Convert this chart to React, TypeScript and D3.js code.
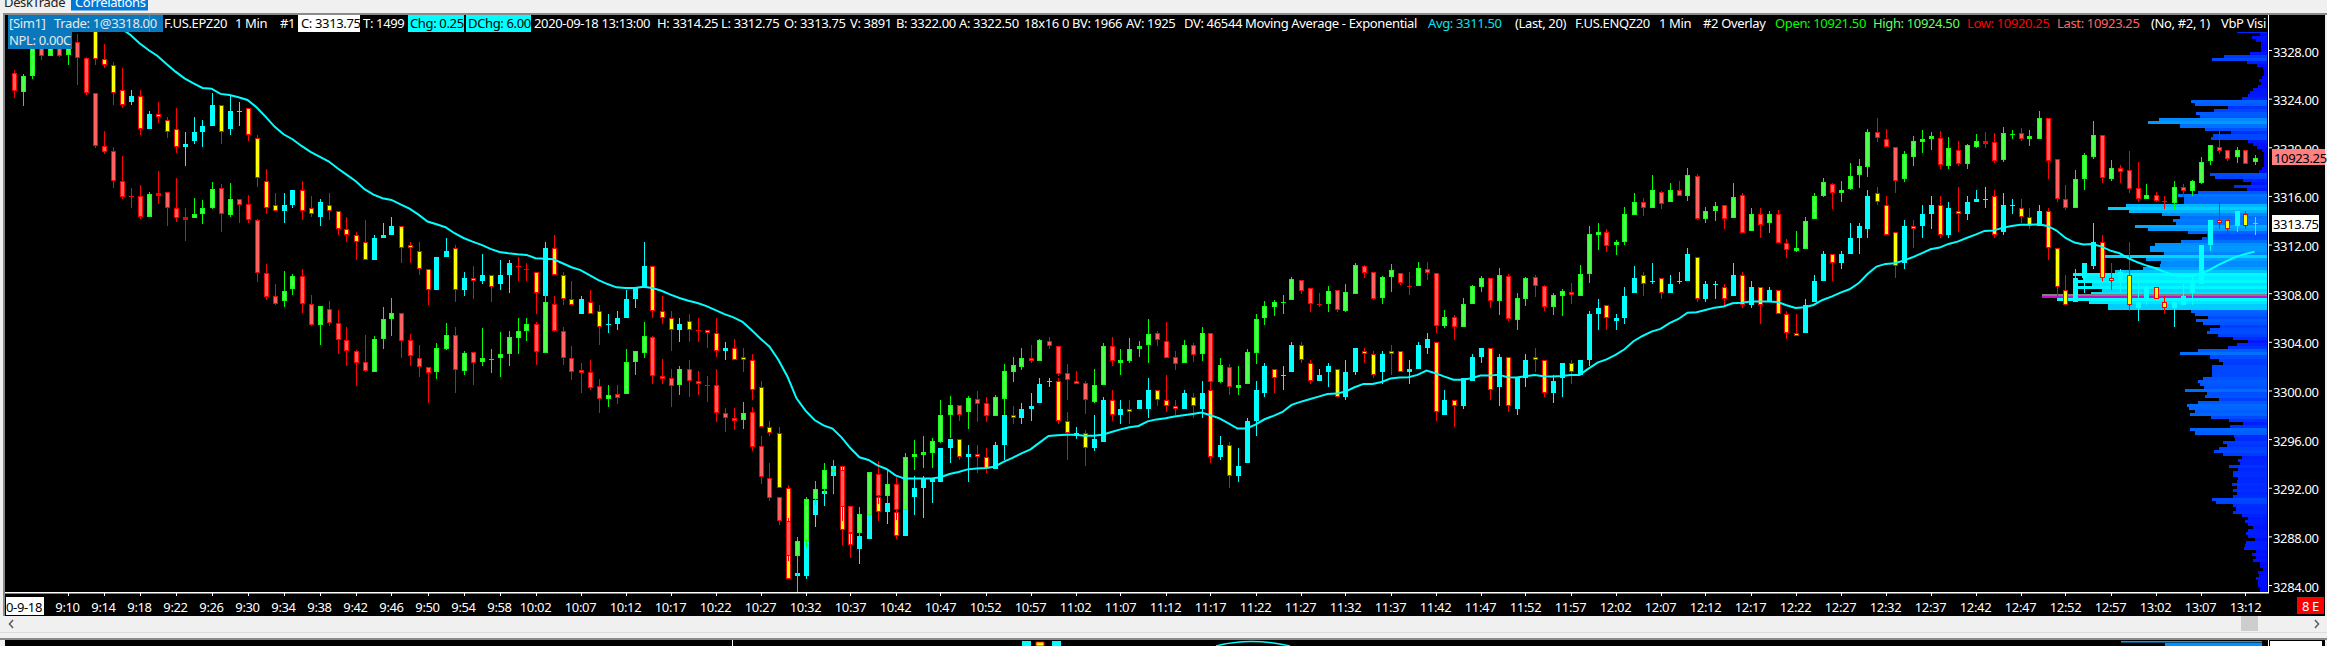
import React from "react";
import * as d3 from "d3";

// Each bar is [open, close, high, low].
// Main series F.US.EPZ20: its first nine bars lie above the visible pane, so it starts at bar 9.
const firstMainBar = 9;
const mainBars: number[][] = [
[3330,3327.25,3330.25,3326.75],[3327.25,3326.75,3328.5,3326.5],[3326.75,3324.5,3327,3323.5],[3324.75,3323.5,3326.5,3323.25],[3323.75,3324.25,3324.75,3323.5],
[3324.25,3321.5,3324.75,3321],[3321.5,3322.75,3323,3321.5],[3322.75,3322.5,3323.75,3322],[3322.25,3321.25,3322.5,3320.75],[3321.5,3320,3323.25,3319.5],
[3320,3320.25,3321.25,3318.5],[3320.5,3321.25,3322.5,3320.25],[3321.25,3321.75,3322.25,3320],[3321.75,3323.5,3324.5,3321.75],[3323.5,3321.25,3323.5,3320.25],
[3321.5,3323,3324.25,3321],[3323,3323,3323.75,3321.75],[3323.25,3321,3323.25,3320.5],[3320.75,3317.5,3321,3316.75],[3317.25,3315,3318.25,3314.5],
[3315.25,3314.75,3316.25,3314.75],[3314.75,3315.25,3316.25,3313.75],[3315.25,3316.5,3316.5,3315],[3316.5,3314.75,3317.25,3314],[3315,3314.5,3316,3314.25],
[3314.25,3315.5,3315.75,3313.5],[3315.25,3314.75,3316.25,3314],[3314.75,3313.25,3314.75,3312.75],[3313.25,3312.75,3314.25,3312.25],[3312.75,3312.25,3313,3310.75],
[3312.25,3310.75,3314,3310.75],[3310.75,3312.5,3312.75,3310.75],[3312.5,3312.75,3313.75,3312.5],[3312.75,3313.5,3314.25,3312.75],[3313.5,3311.75,3313.5,3310.5],
[3312,3311.75,3312.25,3310.5],[3311.5,3310,3312.25,3309.5],[3310,3308.25,3310,3307],[3308.25,3311,3311,3308.25],[3311,3311.5,3312.5,3311],
[3311.75,3308.25,3312,3307.25],[3308.25,3309.25,3309.75,3307.75],[3309.25,3309,3310.25,3307.5],[3309,3309.5,3311.25,3308.75],[3309.5,3308.5,3309.5,3307.25],
[3308.75,3309.5,3310.75,3308.25],[3309.5,3310.5,3310.75,3308],[3310.25,3310.25,3311,3309],[3310,3310,3310.5,3309],[3309.75,3308,3309.75,3306.25],
[3307.75,3311.75,3312.25,3307.75],[3311.75,3309.5,3312.75,3309.5],[3309.5,3307.5,3309.75,3307],[3307.5,3307,3309,3307],
[3306.25,3307.5,3307.75,3306.25],[3307.25,3306.25,3308.25,3306.25],[3306.5,3305.25,3307,3303.75],[3305.5,3305.5,3306.25,3304.75],[3305.5,3306,3306.5,3305],
[3306,3307.5,3308.25,3306],[3307.5,3308.5,3308.5,3306.75],[3308.5,3310.25,3312.25,3308.5],[3310.25,3306.5,3310.25,3306],[3306.5,3306,3307.75,3305.5],
[3306,3305,3306.5,3303.25],[3305,3305.5,3306,3304],[3305.75,3305,3306.25,3304],[3305,3305,3306,3304],[3305,3304.75,3305,3303.5],
[3304.75,3303.25,3306,3302.75],[3303.25,3303.5,3304,3302.5],[3303.5,3302.5,3304.25,3302.5],[3302.75,3302.5,3303.5,3301.5],[3302.5,3300,3303,3299.25],
[3300.25,3297,3300.75,3297],[3297,3296.5,3297.5,3296.25],[3296.5,3292,3297,3292],[3292,3284.5,3292.25,3284.5],[3284.75,3285,3285,3284.75],
[3284.75,3287.75,3287.75,3284.5],[3289.75,3291,3291,3288.75],[3291.5,3291.75,3291.75,3290.5],[3293,3293.75,3294.25,3291.5],[3293.75,3288.5,3293.75,3287.25],
[3288.25,3287.25,3288.25,3286.25],[3287,3288,3288,3285.75],[3287.75,3289.75,3289.75,3287.75],[3291.25,3290,3291.25,3289.25],[3290,3290.75,3290.75,3289],
[3290,3288,3290,3287.75],[3288,3290.25,3290.25,3288],[3291.25,3292,3293,3289.75],[3292,3292.75,3293,3289.5],[3292.5,3292.75,3292.75,3290.75],
[3292.5,3295.25,3295.25,3292.5],[3295.25,3296,3296,3294],[3296,3294.5,3296,3294.25],[3294.5,3294.75,3295.5,3292.5],[3294.75,3294.5,3295.5,3293.25],
[3294.5,3293.5,3295.25,3293.25],[3293.5,3295.5,3295.75,3293.5],[3295.5,3298,3298,3294.25],[3298,3297.75,3298.75,3297.25],[3297.75,3298.5,3299,3297.25],
[3298.5,3298.75,3299.75,3297.5],[3299,3300.5,3301,3299],[3300.75,3300.75,3301,3300.25],[3300.75,3297.5,3301,3297.25],[3297.5,3296.5,3298.25,3294.25],
[3296.25,3296.5,3297,3296],[3296.5,3295.25,3296.75,3293.75],[3295.25,3296,3298,3295],[3295.75,3299.25,3299.5,3295.75],[3299.25,3298,3300,3297.5],
[3298,3298.5,3299.25,3297.25],[3298.5,3298.25,3299.25,3297.25],[3298.5,3299.25,3299.25,3298.5],[3298.5,3300,3301,3297.75],[3300,3299.25,3300,3298.75],
[3299.25,3298.75,3301.25,3298.25],[3298.75,3298.5,3299.25,3298],[3298.5,3299.75,3300,3298.5],[3299.5,3298.75,3299.75,3297.75],[3298.5,3299.75,3300.75,3297.75],
[3300,3294.5,3300.5,3294],[3294.5,3295.5,3296.25,3294.25],[3295.5,3293,3295.75,3292],[3293,3293.75,3295.25,3292.5],[3294,3297.5,3297.75,3294],
[3297.5,3300,3300.75,3296.25],[3299.75,3302,3302.25,3299.5],[3301.75,3301,3301.75,3299.75],[3301.25,3301.25,3302,3300],[3301.5,3303.75,3304,3301.5],
[3303.75,3302.5,3304,3302.25],[3302.25,3300.75,3302.5,3300.5],[3300.75,3301.25,3301.75,3300.75],[3301.5,3302,3302.25,3300.25],[3301.75,3299.5,3301.75,3299.5],
[3299.5,3301.5,3302.5,3299.25],[3301.5,3303.5,3303.5,3301.25],[3303.25,3303,3303.5,3302.25],[3303,3301.25,3303.25,3301],[3301.5,3303,3303.25,3300.5],
[3303.25,3303,3303.75,3301.25],[3303.25,3301.5,3303.25,3301.5],[3301.5,3301.75,3302.5,3300.5],[3301.75,3303.75,3304,3301.75],[3303.5,3304.25,3304.75,3303],
[3304,3298.25,3304,3297.5],[3298,3299.25,3300,3298],[3299.25,3298.75,3299.25,3297],[3298.75,3301,3301,3298.5],[3300.75,3302.75,3303,3300.75],
[3302.75,3303.5,3303.5,3302.25],[3303.5,3300,3303.5,3299.25],[3300.25,3302.75,3303,3298.75],[3302.75,3298.75,3302.75,3298.25],[3298.5,3301,3301,3298],
[3301,3302.5,3303,3300.25],[3302.75,3302.5,3303.5,3301.5],[3302.5,3299.75,3302.5,3299.5],[3299.75,3300.75,3301.25,3299],[3301,3302.25,3302.25,3299.5],
[3302.25,3301.5,3302.5,3300.5],[3301.25,3302.5,3302.5,3301.25],[3302.5,3306.25,3306.5,3302],[3306.25,3306.75,3307.5,3305],[3307,3306,3307,3305],
[3305.75,3306,3306.25,3305],[3306,3307.75,3308.5,3305.5],[3308,3309.25,3310.25,3308],[3309.5,3308.75,3309.75,3307.75],[3309,3309,3310.5,3308.75],
[3309.25,3308,3309.25,3307.5],[3308,3308.75,3309.5,3308],[3309,3309,3309.75,3308.75],[3309,3311.25,3311.75,3309],[3311,3307.5,3311,3307.25],
[3307.5,3308.75,3309,3307.25],[3308.75,3308.75,3309,3307.5],[3308.5,3307.5,3308.75,3307],[3307.75,3309.5,3310.5,3307.75],[3309.5,3307,3309.75,3306.75],
[3307,3308.5,3309,3306.75],[3308.5,3307,3308.5,3305.5],[3307.25,3308.25,3308.5,3307.25],[3308.25,3306.25,3308.25,3306.25],[3306.25,3304.75,3306.5,3304.25],
[3304.75,3304.5,3306.25,3304.5],[3304.75,3307,3307.5,3304.75],[3307.25,3309,3309.5,3307.25],[3309,3311.25,3311.5,3309],[3311.25,3310.5,3311.25,3309],
[3310.5,3311.25,3311.5,3310],[3311.25,3312.5,3313.75,3311.25],[3312.5,3313.5,3313.75,3311.25],[3313.25,3316,3316.5,3312.5],[3316.25,3315.5,3316.75,3315.25],
[3315.25,3312.75,3316,3312.75],[3313,3310.25,3313,3309.25],[3310.5,3313.5,3314,3310],[3313.5,3313.25,3314,3311.75],[3313.5,3314.5,3315.25,3312.5],
[3314.5,3315.25,3316,3313.25],[3315.25,3312.75,3316,3312.5],[3312.75,3315,3315.5,3312.5],[3314.75,3314.5,3316.75,3313],[3314.5,3315.5,3316,3314],
[3315.5,3315.75,3316.5,3315.5],[3315.75,3315.75,3316.75,3315],[3316,3312.75,3316.5,3312.5],[3313,3315.25,3316.25,3312.75],[3315.25,3315.25,3315.75,3314.5],
[3315,3314.25,3315.75,3313.75],[3314.25,3313.5,3315,3313.25],[3313.5,3314.75,3315.25,3313.5],[3314.75,3311.75,3315,3310.75],[3311.75,3308.5,3311.75,3307.75],
[3308.25,3307,3309.5,3307],[3307.25,3309.25,3310,3307.25],[3309.25,3310.5,3310.5,3308],[3310.25,3312.25,3313.75,3310],[3312.25,3309.25,3312.75,3309],
[3309.25,3309,3310.5,3308.25],[3309,3309.75,3310,3308],[3309.5,3307,3312.25,3306.5],[3306.75,3307.25,3309,3305.75],[3307.5,3308.5,3308.75,3307],
[3308.5,3307.5,3308.5,3307.5],[3307.25,3306.75,3307.75,3306.25],[3306.75,3307.25,3307.25,3305.25],[3307,3307.75,3308.75,3307],[3308,3309,3309.5,3307],
[3308.75,3312,3312,3308.75],[3312,3314,3314,3311.5],[3314,3313.75,3315.5,3313.25],[3314,3313.25,3314,3312.5],[3313.5,3314.75,3314.75,3313],
[3314.5,3313.5,3314.75,3313.25],[3313.75,3313.75,3314.25,3312.75],
];
// Bars of the main series where an unchanged open/close prints in the down colour.
const mainDownDoji = [56, 57, 76];

// Overlay series F.US.ENQZ20.
const overlayBars: number[][] = [
[10961.25,10953,10962.25,10950],[10952.5,10959.75,10960.75,10946.5],[10959.75,10978.5,10980,10958.25],[10975.75,10968.75,10977.25,10966.75],[10968.75,10974.25,10975,10968.75],
[10974.25,10968.75,10975,10968.25],[10969.25,10975.75,10976.5,10964.5],[10975,10967.5,10978.5,10955.5],[10967.5,10952,10968.25,10951.25],[10952,10928.5,10952.25,10927.75],
[10928.75,10925.75,10935.25,10925],[10926.25,10913,10928.25,10910],[10913.25,10906,10924.25,10905],[10906.25,10906.25,10909.75,10901.25],[10906.25,10897,10911.25,10896],
[10897.25,10907.25,10908.25,10897.25],[10907.75,10906.75,10917.5,10902.75],[10908,10901,10908,10893.25],[10901.25,10896.5,10914.5,10895],[10897,10896,10901,10886.5],
[10896.75,10898.25,10905.5,10896.5],[10898.25,10901,10904.5,10893.75],[10901,10909.25,10912.5,10900.5],[10909.75,10898.25,10911.75,10890.5],[10898,10905.25,10912.25,10897.25],
[10905,10902.25,10905,10894.5],[10902.75,10895.5,10906.75,10894.5],[10895.5,10872,10896.25,10868.25],[10872,10861.5,10876.25,10860.25],[10861.75,10858.25,10867.25,10858],
[10859.75,10864,10873,10857.25],[10865,10871,10871.75,10862.5],[10871,10858.25,10874,10854.5],[10858.5,10849,10862.5,10848.75],[10849,10857.5,10857.5,10840.25],
[10856,10849.75,10859.75,10848.5],[10849.75,10842.25,10855.75,10836.25],[10842.25,10837.5,10848.25,10831],[10837.5,10832,10837.75,10821.75],[10832.75,10828.5,10844.75,10828],
[10828,10842.75,10844.25,10828],[10842.75,10851.75,10857,10838.5],[10851.75,10854.25,10861,10844],[10854.25,10841.75,10854.25,10834.5],[10842.5,10835.25,10845,10831],
[10834.5,10830.25,10840.25,10825.75],[10830.25,10827.75,10830.25,10814.5],[10828,10838.75,10841.25,10825.25],[10838.5,10844.5,10850,10838],[10844.5,10829,10848.25,10818.75],
[10828.75,10836.5,10837.5,10826.75],[10837,10832,10837.25,10822.5],[10832.75,10834.25,10847.75,10831],[10833.75,10833.75,10838.5,10827.75],[10834.25,10836,10846,10825.75],
[10836,10843.5,10846.5,10830.75],[10843.25,10846.5,10852,10836],[10846.25,10849.5,10852,10841.75],[10849.5,10837,10850.5,10831.25],[10836.75,10859.25,10863.25,10836.5],
[10858.5,10846.25,10861.75,10846],[10846.25,10834.25,10848,10831.25],[10834.5,10828.25,10839.75,10824.5],
[10829.25,10827.75,10832,10819],[10828,10821.25,10833.5,10820],[10822,10816,10825.25,10810],[10816,10818,10822.5,10812.5],[10818.25,10816.75,10822.5,10813.75],
[10818.25,10832.5,10838.5,10818.25],[10832.75,10837.5,10837.5,10827],[10836.75,10844.25,10850.5,10834.5],[10843.75,10826.25,10844.25,10822.75],[10826.25,10825.25,10834,10822.75],
[10825.5,10821.75,10829.5,10812.5],[10822.25,10829.5,10831,10817.75],[10829.5,10824,10833.5,10817.25],[10824,10822.75,10828.5,10817.75],[10822.5,10822.5,10826.25,10815],
[10822.25,10810,10829.5,10805.75],[10810,10807.5,10812.25,10801.5],[10807.75,10806.25,10812.25,10802.5],[10806.75,10810,10815,10803],[10810.25,10794.75,10812.75,10793.25],
[10795.25,10781.25,10799.5,10778.5],[10781,10772,10787.75,10770.75],[10772.5,10761.75,10772.5,10760.25],[10761.75,10746.25,10763.25,10744],[10746.25,10753.25,10755,10730],
[10753.25,10771.75,10772.75,10750.25],[10771.75,10776.25,10779.75,10769.25],[10776,10784.5,10787.75,10773.75],[10783.75,10785,10789.25,10774.5],[10784.5,10768,10785.75,10761.75],
[10768.5,10756.5,10768.5,10750.25],[10756.75,10765,10768,10755.25],[10764.75,10783.75,10783.75,10764.75],[10782.75,10773.25,10788.5,10769.5],[10773.25,10778.5,10784.75,10770],
[10778.5,10766.75,10781.5,10762.5],[10767,10790.5,10792.25,10767],[10790.5,10791.75,10798,10784.5],[10791.5,10792.5,10799.75,10785.5],[10792,10797.5,10799,10785.5],
[10797.25,10809,10815.5,10796.5],[10809.25,10813.5,10817.5,10798.75],[10813.5,10809.25,10813.5,10806.5],[10810.25,10816.5,10817.5,10803],[10816,10813.75,10819.75,10806],
[10814.25,10808.5,10817.25,10806],[10808.75,10817,10818,10808.75],[10816,10828.5,10831.75,10809.25],[10828,10831.25,10834.75,10823.75],[10830.5,10834.25,10839,10829.25],
[10834.25,10833.25,10840.25,10832],[10833.25,10842.25,10843,10833.25],[10841.75,10839.5,10843.75,10838.5],[10839.5,10827.25,10839.5,10826.5],[10827.75,10824.5,10831.75,10815.5],
[10824,10823,10828.5,10823],[10823.25,10815.5,10824,10809.5],[10814.75,10822.25,10829.5,10814.5],[10822.5,10839.75,10841,10822.25],[10839.75,10833.25,10843.75,10831],
[10832.75,10833.5,10838.5,10827],[10833.25,10838.25,10843.25,10832],[10838.75,10839.75,10842,10835],[10840,10845,10851.75,10832.25],[10845.5,10842.25,10846.5,10839.75],
[10841.75,10834.5,10850.5,10834.25],[10834.75,10831.5,10837.5,10829.25],[10832,10840,10842.5,10832],[10840,10835.5,10841,10832.5],[10836,10845.5,10848.25,10833.25],
[10845.5,10823.5,10845.5,10819.5],[10823.5,10831.25,10834.25,10823.25],[10830.25,10821.5,10831.75,10817.75],[10821.75,10822.5,10831,10817.75],[10822.75,10837,10838.25,10822.75],
[10836.75,10851.75,10854,10831.75],[10852,10857.5,10859.75,10849],[10857.25,10859.25,10860.25,10853],[10859.25,10859.25,10862.5,10854],[10860,10869.5,10870.5,10860],
[10869,10864.25,10869,10863],[10865.5,10858.25,10865.5,10855],[10858.5,10858.5,10863.25,10857.25],[10858.25,10864.25,10866.5,10855],[10864.5,10855.5,10864.5,10855],
[10855.25,10863.75,10867.25,10855],[10863,10875.75,10876.75,10863],[10875.25,10872.25,10875.75,10870],[10872.5,10860.75,10872.75,10860.25],[10861.25,10870.5,10871,10858.5],
[10870.25,10873.5,10876.25,10863.75],[10872,10867.75,10872,10867],[10866.5,10866.5,10872.75,10862.5],[10866.5,10874.25,10877,10866.5],[10873.75,10872.25,10877,10869],
[10872,10848.75,10872,10845.5],[10848.75,10852.5,10855.75,10847.75],[10852.5,10848.25,10853.5,10842.5],[10848.25,10858.5,10861,10848.25],[10858.25,10866.5,10867,10858.25],
[10865.75,10870,10870.75,10863.75],[10869.75,10859.5,10869.75,10856.75],[10859.5,10871.25,10874.5,10853.5],[10870.75,10851.75,10871.75,10851],[10851.25,10861,10863.25,10847],
[10860.75,10869.75,10870.5,10857.5],[10870.25,10866.25,10871.25,10861.5],[10866.25,10857.25,10867,10855.25],[10857.25,10862.25,10863.25,10853.5],[10861.75,10864,10865,10853],
[10863.5,10862.5,10867.75,10858.5],[10862,10871.5,10875.75,10862],[10871.5,10889.5,10893,10867.75],[10889.25,10890.25,10894.5,10882.5],[10890.25,10884.25,10891.5,10881.5],
[10884.75,10885.75,10886.75,10880.25],[10885.75,10898.25,10901.5,10884.75],[10898,10903.5,10907.75,10898],[10903.5,10901.25,10905.5,10897.5],[10901.25,10909,10915.75,10901.25],
[10908,10903,10908.5,10900.75],[10903.5,10909,10912.25,10903.5],[10909,10906.5,10913,10906.5],[10906.5,10915.5,10918.75,10904.25],[10915.25,10896,10916.25,10895.75],
[10896.25,10899.5,10901.5,10894.5],[10899.75,10901.75,10903.75,10895.25],[10902.25,10896,10902.25,10891.75],[10896.75,10905.75,10912.25,10896.75],[10906.75,10889.75,10907.5,10889.75],
[10890.75,10898.25,10901,10890.75],[10898.25,10893.5,10901,10887.5],[10894.25,10898.25,10899.5,10890],[10898.25,10885.5,10900.25,10885.5],[10885.5,10882.5,10887.25,10879],
[10882.5,10883.25,10890.75,10881.5],[10882.75,10895.25,10897,10882.75],[10896,10906.25,10907.5,10896],[10906.25,10912.5,10914.5,10905.75],[10911.5,10907.5,10912.25,10900.75],
[10907.5,10909,10913,10903.75],[10909.25,10915.25,10921,10909.25],[10915.75,10919.5,10922.75,10910],[10919.25,10934.75,10936.25,10914.75],[10935,10932.25,10941,10930.5],
[10931.5,10928.25,10936.25,10928.25],[10928,10913.25,10928,10907.75],[10914,10925,10926.5,10912.75],[10923.5,10930.75,10933.25,10919.75],[10930.5,10931.5,10935.75,10925.5],
[10931.75,10933,10934.75,10927],[10932,10920,10935.25,10918.5],[10919.5,10927.5,10932.5,10918.5],[10926.75,10920.5,10931,10919.5],[10920.75,10929,10929.5,10918.5],
[10928,10930.75,10934,10927.5],[10930.75,10930,10934.75,10927.5],[10930.25,10922,10934.5,10921.25],[10922.25,10934.25,10937,10921.5],[10934,10934,10935.75,10931.5],
[10934.25,10931.5,10936.5,10930.75],[10931.5,10933,10935.75,10928.5],[10931.75,10941,10944.25,10931.75],[10941,10922,10941,10914],[10922.75,10905,10922.75,10903.75],
[10905.25,10901.25,10911.25,10900.25],[10901.25,10913.75,10917.75,10901.25],[10913.75,10924.5,10925.5,10909],[10923.5,10933.25,10939.5,10922.75],[10933.25,10914.5,10933.25,10912],
[10914,10918.75,10922.5,10913],[10918.75,10917.25,10920.25,10912],[10918,10909.5,10926.5,10907.5],[10910,10905,10921.5,10903.75],[10905,10906.75,10911.75,10905],
[10906.75,10904,10908.25,10903.75],[10904,10904,10906.5,10900.75],[10903.25,10910.25,10913,10900.75],[10910.25,10908.75,10911.75,10905.75],[10908.75,10913,10913.5,10906.5],
[10912.25,10921.5,10923.75,10911.5],[10922,10929,10929,10920.25],[10928,10926.5,10935.75,10925.25],[10926.75,10922.75,10926.75,10922],[10923.75,10926.75,10928.25,10921.25],
[10926.75,10920.75,10926.75,10920.75],[10921.5,10923.25,10924.5,10920.25],
];
const overlayDownDoji = [13, 77, 145, 155, 239];

// Exponential moving average of the main series, which comes into view at bar 12.
const firstEmaBar = 12;
const emaValues = [
3329.78,3329.24,3328.55,3328,3327.51,3326.85,3326.22,3325.67,3325.26,3324.88,3324.82,3324.39,3324.3,3324.11,3323.89,3323.29,3322.52,3321.7,3321.07,3320.66,
3320.11,3319.62,3319.23,3318.85,3318.27,3317.75,3317.23,3316.55,3316.11,3315.81,3315.67,3315.31,3314.96,3314.46,3313.89,3313.67,3313.42,3312.93,3312.54,3312.24,
3311.97,3311.64,3311.39,3311.28,3311.2,3311.15,3310.87,3310.84,3310.79,3310.46,3310.13,3309.9,3309.49,3309.08,3308.75,3308.48,3308.42,3308.42,3308.53,3308.42,
3308.2,3307.88,3307.6,3307.38,3307.19,3306.94,3306.61,3306.28,3306.01,3305.65,3304.97,3304.26,3303.6,3302.5,3301.13,3299.35,3298.34,3297.57,3297.13,3296.86,
3296.14,3295.24,3294.5,3294.28,3293.84,3293.54,3293.02,3292.75,3292.75,3292.75,3292.75,3292.86,3293.13,3293.29,3293.51,3293.59,3293.62,3293.73,3294.12,3294.45,
3294.83,3295.16,3295.71,3296.25,3296.31,3296.36,3296.36,3296.28,3296.28,3296.36,3296.58,3296.8,3296.97,3297.08,3297.46,3297.62,3297.71,3297.85,3297.96,3298.07,
3298.18,3297.96,3297.71,3297.3,3296.87,3296.87,3297.19,3297.63,3297.91,3298.23,3298.81,3299.06,3299.28,3299.49,3299.71,3299.74,3299.91,3300.26,3300.54,3300.54,
3300.7,3300.98,3301.06,3301.08,3301.28,3301.63,3301.41,3301.14,3300.89,3300.89,3301,3301.22,3301.22,3301.3,3301.08,3301.06,3301.17,3301.28,3301.17,3301.14,
3301.19,3301.28,3301.28,3301.8,3302.29,3302.56,3302.92,3303.39,3304.05,3304.48,3304.84,3305.06,3305.53,3305.88,3306.4,3306.43,3306.62,3306.81,3306.9,3307.17,
3307.22,3307.31,3307.31,3307.31,3307.28,3307.01,3306.79,3306.84,3307.03,3307.44,3307.72,3308.05,3308.32,3308.81,3309.58,3310.19,3310.41,3310.46,3310.68,3310.95,
3311.28,3311.61,3311.75,3312.05,3312.24,3312.54,3312.82,3313.12,3313.15,3313.37,3313.53,3313.62,3313.62,3313.67,3313.53,3313.15,3312.54,3312.16,3312,3312.05,
3311.83,3311.5,3311.28,3310.87,3310.54,3310.27,3310.05,3309.75,3309.5,3309.42,3309.42,3309.58,3309.91,3310.32,3310.68,3311.01,3311.23,3311.42,
];

// Volume-by-price profile, one row per 0.25 from the top price down (relative volume).
const vbpTopPrice = 3329.5;
const vbpStep = 0.25;
const vbpPocPrice = 3307.75;
const vbpVolumes = [
90,20,45,33,18,18,18,51,129,165,60,30,12,9,9,15,24,18,27,42,51,57,75,228,216,117,159,213,201,323,357,261,186,108,162,167,57,42,30,15,
9,9,9,9,9,15,24,171,156,72,48,99,60,207,267,249,249,423,477,414,315,261,282,273,396,357,237,181,195,258,336,351,351,309,491,363,319,321,373,456,
581,551,581,526,571,496,528,675,629,534,477,477,228,216,177,212,192,142,172,181,148,102,58,90,117,208,262,172,145,132,166,166,166,166,193,208,202,190,247,181,
187,145,208,241,235,217,232,169,115,73,112,232,217,100,97,132,120,145,160,132,76,88,81,115,88,103,103,88,91,106,90,103,91,103,166,154,103,94,103,76,
58,67,58,43,58,64,58,37,64,67,70,34,46,34,43,22,22,13,28,25,34,28,28,22,22,
];

const priceTicks = [3328,3324,3320,3316,3312,3308,3304,3300,3296,3292,3288,3284];
const timeLabels = [
"9:10","9:14","9:18","9:22","9:26","9:30","9:34","9:38","9:42","9:46","9:50","9:54","9:58",
"10:02","10:07","10:12","10:17","10:22","10:27","10:32","10:37","10:42","10:47","10:52","10:57",
"11:02","11:07","11:12","11:17","11:22","11:27","11:32","11:37","11:42","11:47","11:52","11:57",
"12:02","12:07","12:12","12:17","12:22","12:27","12:32","12:37","12:42","12:47","12:52","12:57",
"13:02","13:07","13:12",
];
const firstBarMinute = 9 * 60 + 4;

const headerSegments: [string, number, string][] = [
["F.US.EPZ20",164,"#fff"],["1 Min",235,"#fff"],["#1",280,"#fff"],["C: 3313.75",301,"#000"],["T: 1499",363,"#fff"],
["Chg: 0.25",410,"#000"],["DChg: 6.00",468,"#000"],["2020-09-18 13:13:00",534,"#fff"],["H: 3314.25",657,"#fff"],["L: 3312.75",721,"#fff"],
["O: 3313.75",784,"#fff"],["V: 3891",850,"#fff"],["B: 3322.00",896,"#fff"],["A: 3322.50",959,"#fff"],["18x16",1024,"#fff"],["0",1062,"#fff"],
["BV: 1966",1072,"#fff"],["AV: 1925",1126,"#fff"],["DV: 46544",1184,"#fff"],["Moving Average - Exponential",1245,"#fff"],
["Avg: 3311.50",1428,"#00e5f0"],["(Last, 20)",1515,"#fff"],["F.US.ENQZ20",1575,"#fff"],["1 Min",1659,"#fff"],["#2 Overlay",1703,"#fff"],
["Open: 10921.50",1775,"#00ff00"],["High: 10924.50",1873,"#66ff66"],["Low: 10920.25",1967,"#ff0000"],["Last: 10923.25",2057,"#ff6666"],
["(No, #2, 1)",2151,"#fff"],["VbP Visi",2221,"#fff"],
];

const FONT = "'Noto Sans', sans-serif";
const W = 2327, H = 646;
const AXIS_X = 2268, AXIS_Y = 593;

const x = d3.scaleLinear().domain([0, 249]).range([13.5, 2254.5]);
const y = d3.scaleLinear().domain([3328, 3284]).range([50, 585]);
const yOverlay = d3.scaleLinear().domain([10923.25, 10923.25 - 200]).range([158, 158 + 450]);
const vbpWidth = d3.scaleLinear().domain([0, 675]).range([0, 225]);
const vbpColor = d3.scaleLinear<string>().domain([0, 590]).range(["#0000ff", "#00ffff"]).clamp(true);

type Style = { upFill: string; upEdge: string; upWick: string; downFill: string; downEdge: string; downWick: string };
const mainStyle: Style = { upFill: "#00ffff", upEdge: "#00ffff", upWick: "#00ffff", downFill: "#ffff00", downEdge: "#ff0000", downWick: "#ff0000" };
const overlayStyle: Style = { upFill: "#4dff4d", upEdge: "#1aff1a", upWick: "#00ff00", downFill: "#ff6060", downEdge: "#ff0000", downWick: "#ff0000" };

function Candle({ bar, i, yS, st, downDoji }: { bar: number[]; i: number; yS: (v: number) => number; st: Style; downDoji: boolean }) {
  const [o, c, h, l] = bar;
  const up = c > o || (c === o && !downDoji);
  const cx = Math.round(x(i));
  const top = Math.round(yS(Math.max(o, c)));
  const bot = Math.round(yS(Math.min(o, c)));
  const wick = up ? st.upWick : st.downWick;
  const edge = up ? st.upEdge : st.downEdge;
  const fill = up ? st.upFill : st.downFill;
  const bh = bot - top;
  return (
    <g>
      <rect x={cx} y={yS(h)} width={1} height={Math.max(1, yS(l) - yS(h))} fill={wick} />
      {bh < 1 ? (
        <rect x={cx - 2} y={top} width={5} height={1} fill={wick} />
      ) : (
        <>
          <rect x={cx - 2} y={top} width={5} height={Math.max(bh, 3)} fill={edge} />
          {bh >= 3 && <rect x={cx - 1} y={top + 1} width={3} height={bh - 2} fill={fill} />}
        </>
      )}
    </g>
  );
}

const minutes = (s: string) => { const [a, b] = s.split(":").map(Number); return a * 60 + b; };

export default function App() {
  const emaLine = d3.line<number>().x((_, k) => x(k + firstEmaBar)).y((v) => y(v));
  const downMain = new Set(mainDownDoji);
  const downOverlay = new Set(overlayDownDoji);
  const font13 = { fontFamily: FONT, fontSize: 13, letterSpacing: "-0.35px" } as const;
  return (
    <svg width={W} height={H} viewBox={`0 0 ${W} ${H}`} style={{ position: "fixed", left: 0, top: 0, display: "block" }}>
      <style>{`body{margin:0;background:#f0f0f0}`}</style>
      <defs>
        <clipPath id="plot"><rect x={5} y={15} width={AXIS_X - 5} height={AXIS_Y - 15} /></clipPath>
        <clipPath id="hdr"><rect x={0} y={15} width={AXIS_X} height={18} /></clipPath>
        <clipPath id="tabs"><rect x={0} y={0} width={300} height={10.5} /></clipPath>
        <clipPath id="date"><rect x={6} y={597} width={38} height={18} /></clipPath>
      </defs>

      {/* window chrome */}
      <rect width={W} height={H} fill="#f0f0f0" />
      <rect x={71} y={0} width={77} height={10.5} fill="#0078d7" />
      <g clipPath="url(#tabs)" {...font13}>
        <text x={4} y={7} fill="#222">DeskTrade</text>
        <text x={75} y={7} fill="#fff">Correlations</text>
      </g>
      <rect x={0} y={13} width={W} height={2} fill="#8a8a8a" />
      <rect x={0} y={13} width={3} height={603} fill="#f0f0f0" />
      <rect x={3} y={13} width={2} height={603} fill="#8a8a8a" />
      <rect x={5} y={15} width={W - 7} height={601} fill="#000" />

      {/* plot */}
      <g clipPath="url(#plot)" shapeRendering="crispEdges">
        {vbpVolumes.map((v, k) => {
          const p = vbpTopPrice - k * vbpStep;
          return <rect key={k} x={AXIS_X - 1 - vbpWidth(v)} y={y(p) - 1.52} width={vbpWidth(v)} height={3.04} fill={vbpColor(v)} />;
        })}
        <rect x={AXIS_X - 1 - vbpWidth(675)} y={y(vbpPocPrice) - 2} width={vbpWidth(675)} height={1.5} fill="#808080" />
        <rect x={AXIS_X - 1 - vbpWidth(675)} y={y(vbpPocPrice) - 0.5} width={vbpWidth(675)} height={2} fill="#c80fc8" />
        {mainBars.map((b, k) => (
          <Candle key={k} bar={b} i={k + firstMainBar} yS={y} st={mainStyle} downDoji={downMain.has(k + firstMainBar)} />
        ))}
        {overlayBars.map((b, k) => (
          <Candle key={k} bar={b} i={k} yS={yOverlay} st={overlayStyle} downDoji={downOverlay.has(k)} />
        ))}
      </g>
      <g clipPath="url(#plot)">
        <path d={emaLine(emaValues) ?? ""} fill="none" stroke="#00ffff" strokeWidth={2} />
      </g>

      {/* header */}
      <rect x={5} y={15} width={AXIS_X - 5} height={17} fill="#000" />
      <rect x={8} y={15} width={155} height={17} fill="#0a78bd" />
      <rect x={8} y={32} width={64} height={17} fill="#0a78bd" />
      <rect x={149} y={15} width={1} height={17} fill="#c96a3a" />
      <rect x={298} y={15} width={62} height={17} fill="#fff" />
      <rect x={408} y={15} width={56} height={17} fill="#00ffff" />
      <rect x={466} y={15} width={65} height={17} fill="#00ffff" />
      <g {...font13}>
        <text x={9} y={28} fill="#e8e8e8">[Sim1]</text>
        <text x={54} y={28} fill="#e8e8e8">Trade: 1@3318.00</text>
        <text x={9} y={45} fill="#e8e8e8">NPL: 0.00C</text>
      </g>
      <g clipPath="url(#hdr)" {...font13}>
        {headerSegments.map(([t, px, col], k) => <text key={k} x={px} y={28} fill={col}>{t}</text>)}
      </g>

      {/* axes */}
      <rect x={AXIS_X} y={15} width={1} height={AXIS_Y - 15} fill="#fff" />
      <rect x={5} y={AXIS_Y - 1} width={AXIS_X - 4} height={1.5} fill="#fff" />
      <g {...font13} fill="#fff">
        {priceTicks.map((p) => (
          <g key={p}>
            <rect x={AXIS_X} y={y(p)} width={4} height={1} />
            <text x={2273} y={y(p) + 6.5}>{p.toFixed(2)}</text>
          </g>
        ))}
        {timeLabels.map((t) => {
          const tx = x(minutes(t) - firstBarMinute);
          return (
            <g key={t}>
              <rect x={Math.round(tx)} y={AXIS_Y} width={1} height={3} />
              <text x={tx} y={612} textAnchor="middle">{t}</text>
            </g>
          );
        })}
      </g>
      <rect x={6} y={597} width={38} height={18} fill="#fff" />
      <g clipPath="url(#date)" {...font13}><text x={6} y={612} fill="#000">0-9-18</text></g>

      {/* last-price flags */}
      <rect x={2272} y={149} width={53} height={16} fill="#ff8080" />
      <text x={2274} y={163} fill="#000" {...font13}>10923.25</text>
      <rect x={2272} y={215} width={47} height={17} fill="#fff" />
      <text x={2273} y={229} fill="#000" {...font13}>3313.75</text>
      <rect x={2297} y={597} width={27} height={17} fill="#ff0000" />
      <text x={2302} y={611} fill="#fff" {...font13}>8 E</text>

      {/* scroll bar */}
      <rect x={0} y={616} width={W} height={16} fill="#f0f0f0" />
      <rect x={2241} y={616} width={17} height={15} fill="#cdcdcd" />
      <path d="M13 620 L9.5 624 L13 628" fill="none" stroke="#606060" strokeWidth={1.6} />
      <path d="M2315 620 L2318.5 624 L2315 628" fill="none" stroke="#606060" strokeWidth={1.6} />
      <rect x={0} y={632} width={W} height={1} fill="#dcdcdc" />
      <rect x={0} y={638} width={W} height={2} fill="#8a8a8a" />

      {/* next pane */}
      <rect x={5} y={640} width={W - 7} height={6} fill="#000" />
      <rect x={732} y={640} width={1} height={6} fill="#fff" />
      <rect x={1022} y={641} width={9} height={5} fill="#00ffff" />
      <rect x={1036} y={642} width={8} height={4} fill="#ffff00" stroke="#ff0000" />
      <rect x={1052} y={641} width={9} height={5} fill="#00ffff" />
      <path d="M1216 646 Q1250 637 1290 646" fill="none" stroke="#00ffff" strokeWidth={1.5} />
      <rect x={2121} y={641} width={141} height={1.5} fill="#00a0ff" />
      <rect x={2165} y={643} width={97} height={3} fill="#0090ff" />
      <rect x={2268} y={640} width={1} height={6} fill="#fff" />
      <rect x={2270} y={641} width={52} height={5} fill="#fff" />
    </svg>
  );
}
